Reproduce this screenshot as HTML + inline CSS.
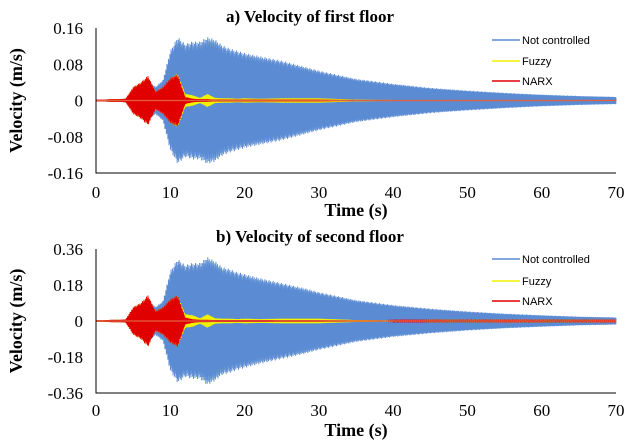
<!DOCTYPE html>
<html><head><meta charset="utf-8"><style>
body{margin:0;background:#fff;}
svg{display:block;font-family:"Liberation Serif",serif;}
</style></head><body>
<svg id="c" width="631" height="444"></svg>
<script>
// seconds 0..70 envelope amplitudes (m/s)
const times=[0,1,2,3,4,5,6,7,8,9,10,11,12,13,14,15,16,17,18,19,20,22,25,28,30,35,40,45,50,55,60,65,70];
const blue1=[0.002,0.002,0.003,0.003,0.004,0.012,0.025,0.045,0.03,0.045,0.11,0.14,0.125,0.13,0.13,0.14,0.135,0.122,0.115,0.11,0.105,0.098,0.088,0.075,0.066,0.048,0.037,0.028,0.022,0.017,0.013,0.01,0.008];
const yellow1=[0.002,0.002,0.003,0.003,0.004,0.03,0.04,0.055,0.02,0.03,0.05,0.06,0.015,0.012,0.006,0.015,0.006,0.005,0.005,0.004,0.005,0.004,0.005,0.005,0.005,0.002,0.001,0.001,0.001,0.001,0.001,0.001,0.001];
const red1=[0.002,0.002,0.003,0.003,0.004,0.03,0.04,0.055,0.02,0.03,0.05,0.058,0.008,0.004,0.003,0.003,0.002,0.002,0.002,0.002,0.002,0.002,0.002,0.002,0.002,0.001,0.001,0.001,0.001,0.001,0.001,0.001,0.001];
const blue2=[0.004,0.004,0.006,0.006,0.008,0.03,0.06,0.11,0.07,0.1,0.25,0.31,0.28,0.29,0.29,0.32,0.3,0.27,0.26,0.245,0.235,0.215,0.19,0.165,0.145,0.105,0.08,0.062,0.048,0.037,0.029,0.022,0.018];
const yellow2=[0.004,0.004,0.006,0.006,0.008,0.07,0.09,0.13,0.05,0.07,0.11,0.13,0.035,0.03,0.014,0.035,0.014,0.012,0.012,0.01,0.012,0.01,0.012,0.012,0.012,0.005,0.003,0.002,0.002,0.002,0.002,0.002,0.002];
const red2=[0.004,0.004,0.006,0.006,0.008,0.07,0.09,0.13,0.05,0.07,0.11,0.13,0.018,0.009,0.006,0.006,0.005,0.005,0.005,0.005,0.005,0.005,0.004,0.004,0.004,0.003,0.002,0.002,0.002,0.002,0.002,0.002,0.002];
const xTicks=[0,10,20,30,40,50,60,70];
const yTicks1=["0.16","0.08","0","-0.08","-0.16"];
const yTicks2=["0.36","0.18","0","-0.18","-0.36"];
const NS="http://www.w3.org/2000/svg";
const svg=document.getElementById('c');
function mk(t,a,txt){const e=document.createElementNS(NS,t);for(const k in a)e.setAttribute(k,a[k]);if(txt!==undefined)e.textContent=txt;svg.appendChild(e);return e;}
function env(arr,t){for(let i=0;i<times.length-1;i++){if(t<=times[i+1]){const f=(t-times[i])/(times[i+1]-times[i]);return arr[i]+(arr[i+1]-arr[i])*f;}}return arr[arr.length-1];}
function panel(p){
 const x0=96,x1=616,top=p.top,bot=p.bot,mid=(top+bot)/2;
 const xs=t=>x0+(t/70)*(x1-x0);
 const ys=v=>mid-(v/p.max)*(bot-top)/2;
 let t1=mk('text',{x:310,y:p.titleY,'text-anchor':'middle','font-size':17,'font-weight':'bold'},p.title);
 
 const series=[[p.b,'#5a8bd3'],[p.y,'#f2f200'],[p.r,'#e00000']];
 series.forEach((s,si)=>{
  let d='';const dt=0.025;
  for(let t=0,k=0;t<=70;t+=dt,k++){const a=env(s[0],t)*(k%2?-1:1)*(0.8+0.2*((k*37)%11)/10);d+=(k?'L':'M')+xs(t).toFixed(2)+','+ys(a).toFixed(1);}
  const e=mk('path',{d:d,fill:'none',stroke:s[1],'stroke-width':si==0?1:0.9});
  
  
 });
 mk('line',{x1:x0,y1:mid,x2:x1,y2:mid,stroke:'#e06040','stroke-width':1.2});
 const ax=mk('path',{d:`M${x0},${top}V${bot}H${x1}`,fill:'none',stroke:'#000','stroke-width':1});
 
 p.yt.forEach((l,i)=>{const e=mk('text',{x:83,y:top+i*(bot-top)/4+6,'text-anchor':'end','font-size':17},l);
  });
 xTicks.forEach(v=>{const e=mk('text',{x:xs(v),y:p.xlY,'text-anchor':'middle','font-size':17},String(v));
  });
 let xt=mk('text',{x:356,y:p.xtY,'text-anchor':'middle','font-size':18,'font-weight':'bold'},'Time (s)');
 
 let yt=mk('text',{x:0,y:0,'text-anchor':'middle','font-size':18,'font-weight':'bold',transform:`translate(22,${mid}) rotate(-90)`},'Velocity (m/s)');
 
 ['Not controlled','Fuzzy','NARX'].forEach((n,i)=>{
  const y=p.legY[i];
  const l=mk('line',{x1:492,y1:y,x2:520,y2:y,stroke:series[i][1],'stroke-width':1.5});
  
  const t=mk('text',{x:522,y:y+4,'font-size':11,'font-family':'Liberation Sans, sans-serif'},n);
  
 });
}
panel({id:'first-floor',title:'a) Velocity of first floor',titleY:22,top:28,bot:173,max:0.16,b:blue1,y:yellow1,r:red1,yt:yTicks1,xlY:198,xtY:216,legY:[40,61,81]});
panel({id:'second-floor',title:'b) Velocity of second floor',titleY:242,top:249,bot:393,max:0.36,b:blue2,y:yellow2,r:red2,yt:yTicks2,xlY:416,xtY:436,legY:[259,281,301]});
</script>
</body></html>
